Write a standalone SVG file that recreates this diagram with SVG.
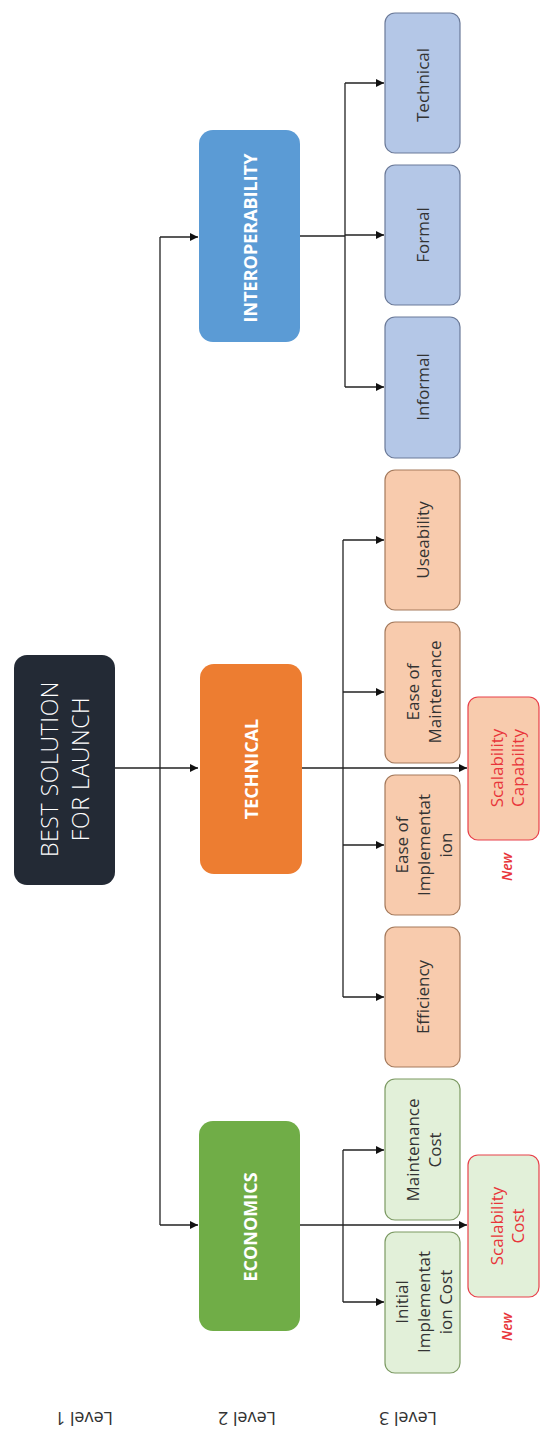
<svg xmlns="http://www.w3.org/2000/svg" width="540" height="1430" viewBox="0 0 540 1430">
<defs>
<marker id="arr" viewBox="0 0 10 10" refX="10" refY="5" markerWidth="8" markerHeight="8" markerUnits="userSpaceOnUse" orient="auto"><path d="M0,0 L10,5 L0,10 z" fill="#111"/></marker>
<style>
.ln{fill:none;stroke:#222;stroke-width:1.3}
.t{font-family:"Open Sans","Liberation Sans",sans-serif;text-anchor:middle;dominant-baseline:central}
.l2{fill:#fff;font-weight:700;font-size:18px}
.l3{fill:#333;font-size:17px}
.red{fill:#e8353a}
.blue2{fill:#b4c7e7;stroke:#6b7a99;stroke-width:1.2}
.or2{fill:#f8cbad;stroke:#a57a5c;stroke-width:1.2}
.gr2{fill:#e2f0d9;stroke:#7c9a63;stroke-width:1.2}
.rs{stroke:#e8404a}
.lvl{fill:#333;font-size:18px}
</style>
</defs>
<rect width="540" height="1430" fill="#fff"/>
<g id="connectors">
<path class="ln" d="M115,768 H198" marker-end="url(#arr)"/>
<path class="ln" d="M160,237 V1225"/>
<path class="ln" d="M160,237 H198" marker-end="url(#arr)"/>
<path class="ln" d="M160,1225 H198" marker-end="url(#arr)"/>
<path class="ln" d="M300,236 H345"/>
<path class="ln" d="M345,83 V387"/>
<path class="ln" d="M345,83 H384" marker-end="url(#arr)"/>
<path class="ln" d="M345,235 H384" marker-end="url(#arr)"/>
<path class="ln" d="M345,387 H384" marker-end="url(#arr)"/>
<path class="ln" d="M302,768 H467" marker-end="url(#arr)"/>
<path class="ln" d="M343,540 V997"/>
<path class="ln" d="M343,540 H384" marker-end="url(#arr)"/>
<path class="ln" d="M343,692 H384" marker-end="url(#arr)"/>
<path class="ln" d="M343,845 H384" marker-end="url(#arr)"/>
<path class="ln" d="M343,997 H384" marker-end="url(#arr)"/>
<path class="ln" d="M300,1225 H467" marker-end="url(#arr)"/>
<path class="ln" d="M343,1150 V1302"/>
<path class="ln" d="M343,1150 H384" marker-end="url(#arr)"/>
<path class="ln" d="M343,1302 H384" marker-end="url(#arr)"/>
</g>
<g id="root">
<rect x="14" y="655" width="101" height="230" rx="13" fill="#232a35"/>
<text class="t" transform="translate(63.5,769) rotate(-90)" fill="#fff" font-size="23" font-weight="300" letter-spacing="0.6"><tspan x="0" dy="-15">BEST SOLUTION</tspan><tspan x="0" dy="31">FOR LAUNCH</tspan></text>
</g>
<g id="interoperability">
<rect x="199" y="130" width="101" height="212" rx="14" fill="#5b9bd5"/>
<text class="t l2" transform="translate(250,238) rotate(-90)">INTEROPERABILITY</text>
</g>
<g id="technical">
<rect x="200" y="664" width="102" height="210" rx="14" fill="#ed7d31"/>
<text class="t l2" transform="translate(251,769) rotate(-90)">TECHNICAL</text>
</g>
<g id="economics">
<rect x="199" y="1121" width="101" height="210" rx="14" fill="#70ad47"/>
<text class="t l2" transform="translate(250,1227) rotate(-90)">ECONOMICS</text>
</g>
<g id="int-technical">
<rect class="blue2" x="385" y="13" width="75" height="140" rx="10"/>
<text class="t l3" transform="translate(422.5,85) rotate(-90)">Technical</text>
</g>
<g id="int-formal">
<rect class="blue2" x="385" y="165" width="75" height="140" rx="10"/>
<text class="t l3" transform="translate(422.5,235) rotate(-90)">Formal</text>
</g>
<g id="int-informal">
<rect class="blue2" x="385" y="317" width="75" height="141" rx="10"/>
<text class="t l3" transform="translate(422.5,387) rotate(-90)">Informal</text>
</g>
<g id="tech-useability">
<rect class="or2" x="385" y="470" width="75" height="140" rx="10"/>
<text class="t l3" transform="translate(422.5,540) rotate(-90)">Useability</text>
</g>
<g id="tech-maintenance">
<rect class="or2" x="385" y="622" width="75" height="141" rx="10"/>
<text class="t l3" transform="translate(422.5,692) rotate(-90)"><tspan x="0" dy="-11">Ease of</tspan><tspan x="0" dy="22">Maintenance</tspan></text>
</g>
<g id="tech-implementation">
<rect class="or2" x="385" y="775" width="75" height="140" rx="10"/>
<text class="t l3" transform="translate(422.5,845) rotate(-90)"><tspan x="0" dy="-22">Ease of</tspan><tspan x="0" dy="22">Implementat</tspan><tspan x="0" dy="22">ion</tspan></text>
</g>
<g id="tech-efficiency">
<rect class="or2" x="385" y="927" width="75" height="140" rx="10"/>
<text class="t l3" transform="translate(422.5,997) rotate(-90)">Efficiency</text>
</g>
<g id="tech-scalability">
<rect class="or2 rs" x="468" y="697" width="71" height="143" rx="10"/>
<text class="t l3 red" transform="translate(506,768) rotate(-90)"><tspan x="0" dy="-10.5">Scalability</tspan><tspan x="0" dy="21">Capability</tspan></text>
<text class="t red" transform="translate(506,867) rotate(-90)" font-size="14" font-style="italic" font-weight="600">New</text>
</g>
<g id="eco-maintenance">
<rect class="gr2" x="385" y="1079" width="75" height="141" rx="10"/>
<text class="t l3" transform="translate(422.5,1150) rotate(-90)"><tspan x="0" dy="-11">Maintenance</tspan><tspan x="0" dy="22">Cost</tspan></text>
</g>
<g id="eco-initial">
<rect class="gr2" x="385" y="1232" width="75" height="141" rx="10"/>
<text class="t l3" transform="translate(422.5,1302) rotate(-90)"><tspan x="0" dy="-22">Initial</tspan><tspan x="0" dy="22">Implementat</tspan><tspan x="0" dy="22">ion Cost</tspan></text>
</g>
<g id="eco-scalability">
<rect class="gr2 rs" x="468" y="1155" width="71" height="142" rx="10"/>
<text class="t l3 red" transform="translate(506,1226) rotate(-90)"><tspan x="0" dy="-10.5">Scalability</tspan><tspan x="0" dy="21">Cost</tspan></text>
<text class="t red" transform="translate(506,1327) rotate(-90)" font-size="14" font-style="italic" font-weight="600">New</text>
</g>
<g id="levels">
<text class="t lvl" transform="translate(84,1419) rotate(180)">Level 1</text>
<text class="t lvl" transform="translate(247,1419) rotate(180)">Level 2</text>
<text class="t lvl" transform="translate(408,1419) rotate(180)">Level 3</text>
</g>
</svg>
